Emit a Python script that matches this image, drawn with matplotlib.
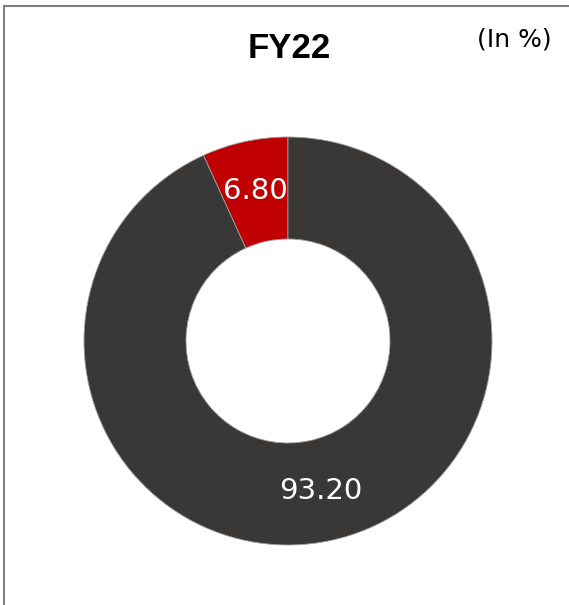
import matplotlib.pyplot as plt
from matplotlib.lines import Line2D

# share split for FY22 (in %)
labels = ['6.80', '93.20']
shares = [6.80, 93.20]
colors = ['#c00000', '#3a3836']

fig = plt.figure(figsize=(5.69, 6.05), dpi=100)
ax = fig.add_axes([0.0, 0.0, 1.0, 1.0])
ax.set_xlim(0, 569)
ax.set_ylim(605, 0)
ax.axis('off')

# thin frame on the top and left sides
ax.add_line(Line2D([4, 4], [6, 605], color='#7f7f7f', lw=1.5))
ax.add_line(Line2D([4, 569], [6, 6], color='#7f7f7f', lw=1.5))

ax.text(289, 48, 'FY22', ha='center', va='center', fontsize=25,
        fontweight='bold', family='Liberation Sans', color='black')
ax.text(514, 39, '(In %)', ha='center', va='center', fontsize=18,
        family='DejaVu Sans', color='black')

# donut
pax = fig.add_axes([(288 - 204) / 569, 1 - (341 + 204) / 605, 408 / 569, 408 / 605])
wedges, texts = pax.pie(shares, colors=colors, startangle=90, counterclock=True,
                        radius=1.0, labels=labels, labeldistance=0.75,
                        wedgeprops=dict(width=0.5, edgecolor='#a0a0a0', linewidth=0.6),
                        textprops=dict(color='white', fontsize=21, family='DejaVu Sans'))
for t in texts:
    t.set_ha('center')
    t.set_va('center')
pax.set_xlim(-1, 1)
pax.set_ylim(-1, 1)
pax.set_aspect('equal')

fig.savefig('out.png', dpi=100)
